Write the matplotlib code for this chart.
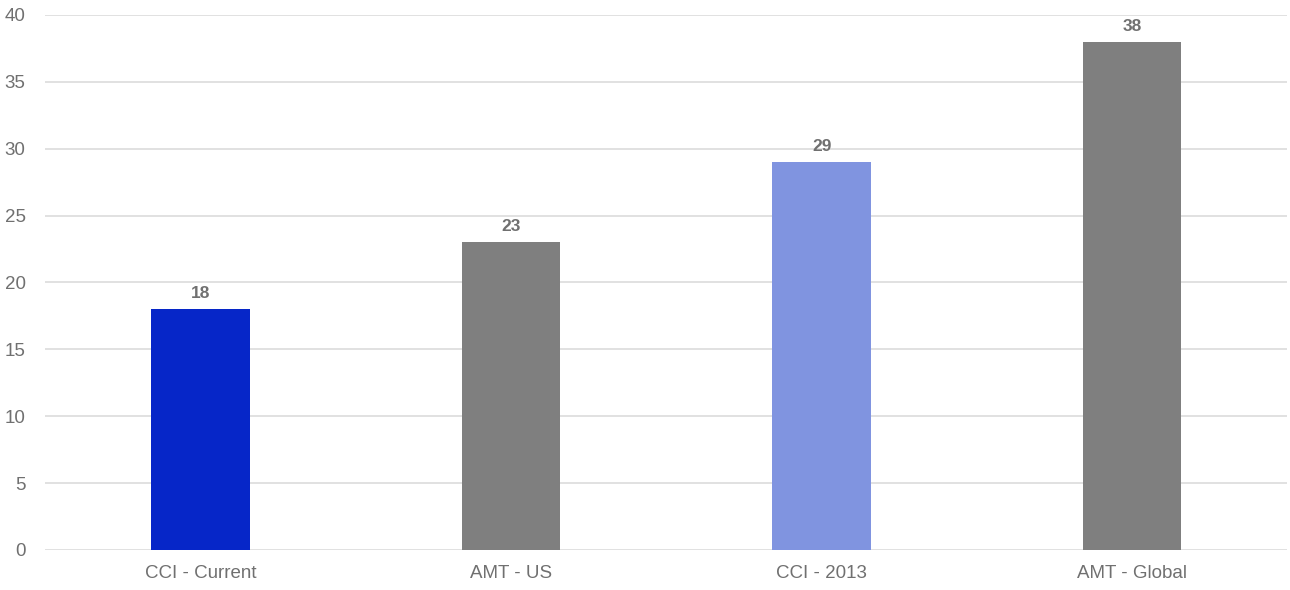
import matplotlib.pyplot as plt

categories = ["CCI - Current", "AMT - US", "CCI - 2013", "AMT - Global"]
values = [18, 23, 29, 38]
colors = ["#0626C8", "#7F7F7F", "#8094E0", "#7F7F7F"]

plt.rcParams['font.family'] = ['Liberation Sans', 'DejaVu Sans']

fig = plt.figure(figsize=(12.9, 5.9), dpi=100)
ax = fig.add_axes([0.035, 0.0678, 0.963, 0.9068])

x = range(len(categories))
bars = ax.bar(x, values, width=0.316, color=colors, zorder=3)
for b, v in zip(bars, values):
    ax.text(b.get_x() + b.get_width() / 2, v + 0.6, str(v), ha='center', va='bottom',
            fontsize=12.5, fontweight='bold', color='#707070')

ax.set_xlim(-0.5, 3.5)
ax.set_ylim(0, 40)
ax.set_yticks(range(0, 41, 5))
ax.set_xticks(list(x))
ax.set_xticklabels(categories)
ax.grid(axis='y', color='#DCDCDC', linewidth=1.2, zorder=0)
for s in ax.spines.values():
    s.set_visible(False)
ax.tick_params(length=0, labelsize=13.5, colors='#707070')
ax.tick_params(axis='y', pad=14)
ax.tick_params(axis='x', pad=11)

fig.savefig("out.png", dpi=100)
